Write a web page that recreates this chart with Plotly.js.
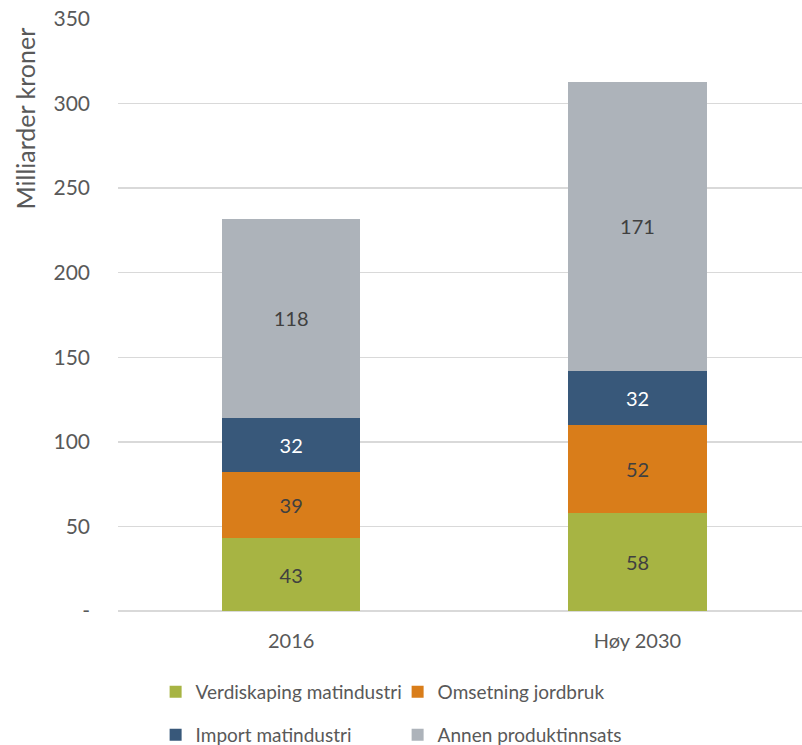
<!DOCTYPE html>
<html>
<head>
<meta charset="utf-8">
<script src="https://cdn.plot.ly/plotly-3.0.1.min.js"></script>
<style>html,body{margin:0;padding:0;background:#fff;}#chart{width:802px;height:745px;}</style>
</head>
<body>
<div id="chart"></div>
<script>
const categories = ["2016", "Høy 2030"];
const seriesNames = ["Verdiskaping matindustri", "Omsetning jordbruk", "Import matindustri", "Annen produktinnsats"];
const verdiskaping = [43, 58];
const omsetning = [39, 52];
const importMat = [32, 32];
const annen = [118, 171];
const yTickVals = [0, 50, 100, 150, 200, 250, 300, 350];
const yTickText = ["-", "50", "100", "150", "200", "250", "300", "350"];

const colors = ["#A7B443", "#D97D1A", "#38587A", "#ADB3BA"];
const textColors = ["#404040", "#404040", "#FFFFFF", "#404040"];
const legendIds = ["legend", "legend", "legend2", "legend2"];
const seriesValues = [verdiskaping, omsetning, importMat, annen];
const FONT = "Lato, 'Open Sans', sans-serif";

const traces = seriesValues.map((vals, i) => ({
  type: "bar",
  name: seriesNames[i],
  x: categories,
  y: vals,
  text: vals.map(String),
  textposition: "inside",
  insidetextanchor: "middle",
  textfont: {family: FONT, size: 20, color: textColors[i]},
  marker: {color: colors[i], line: {width: 0}},
  width: 0.4,
  legend: legendIds[i],
  hoverinfo: "none"
}));

const legendBase = {
  orientation: "h",
  traceorder: "normal",
  x: 0.055,
  xanchor: "left",
  yanchor: "middle",
  entrywidth: 197,
  entrywidthmode: "pixels",
  itemwidth: 30,
  font: {family: FONT, size: 19, color: "#595959"},
  bgcolor: "rgba(0,0,0,0)"
};

const layout = {
  width: 802,
  height: 745,
  barmode: "stack",
  margin: {l: 118, r: 0, t: 19, b: 134, autoexpand: false},
  paper_bgcolor: "#FFFFFF",
  plot_bgcolor: "#FFFFFF",
  font: {family: FONT, size: 20, color: "#595959"},
  xaxis: {
    type: "category",
    range: [-0.5, 1.475],
    showgrid: false,
    showline: false,
    zeroline: false,
    ticks: "",
    ticklabelstandoff: 16,
    tickfont: {family: FONT, size: 20, color: "#595959"}
  },
  yaxis: {
    range: [0, 350],
    tickvals: yTickVals,
    ticktext: yTickText,
    showgrid: true,
    gridcolor: "#D9D9D9",
    gridwidth: 1.5,
    zeroline: true,
    zerolinecolor: "#D9D9D9",
    zerolinewidth: 2,
    showline: false,
    ticks: "",
    ticklabelstandoff: 27,
    tickfont: {family: FONT, size: 21, color: "#595959"}
  },
  annotations: [{
    text: "Milliarder kroner",
    textangle: -90,
    xref: "paper", yref: "paper",
    x: (24.5 - 118) / 684, y: (611 - 119) / 592,
    xanchor: "center", yanchor: "middle",
    showarrow: false,
    font: {family: FONT, size: 25, color: "#595959"}
  }],
  showlegend: true,
  legend: Object.assign({}, legendBase, {y: (611 - 692) / 592}),
  legend2: Object.assign({}, legendBase, {y: (611 - 735) / 592})
};

Plotly.newPlot("chart", traces, layout, {displayModeBar: false, staticPlot: true});
</script>
</body>
</html>
